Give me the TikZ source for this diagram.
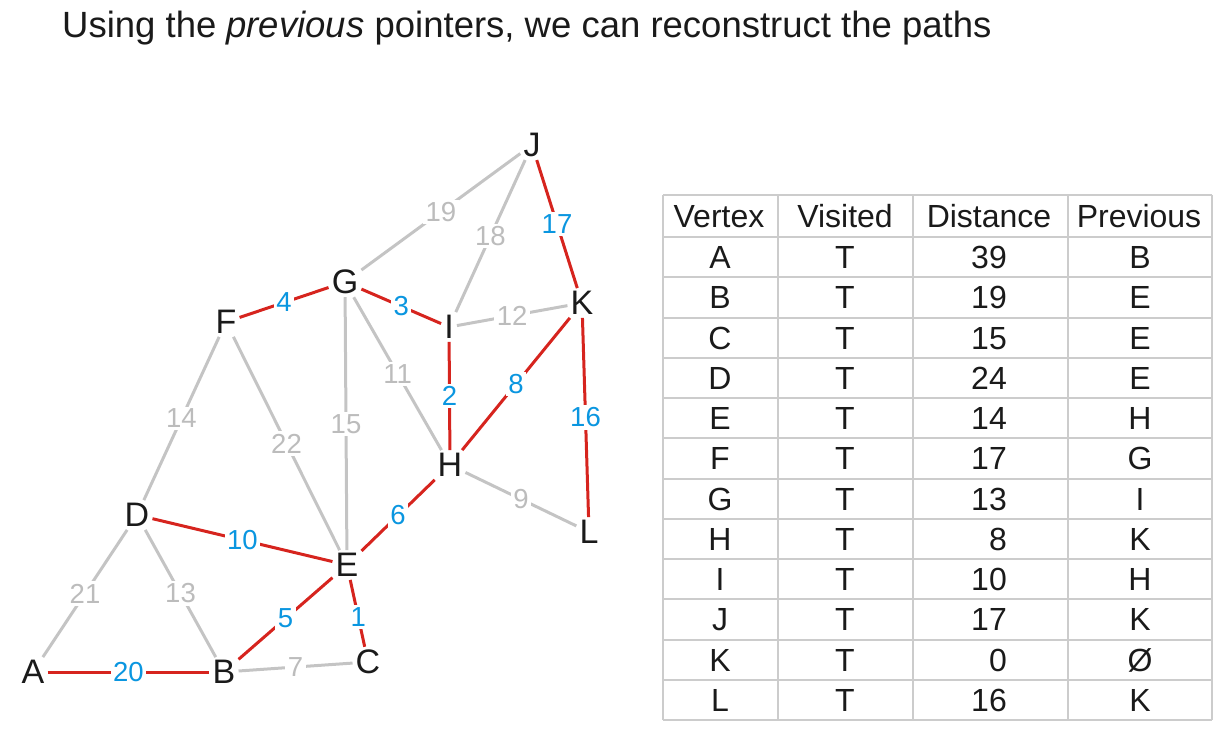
\documentclass[tikz,border=0pt]{standalone}
\usepackage{fontspec}
\setmainfont{Liberation Sans}
\definecolor{pathred}{RGB}{214,36,30}
\definecolor{edgegray}{RGB}{196,196,196}
\definecolor{wblue}{RGB}{10,150,224}
\definecolor{wgray}{RGB}{188,188,188}
\definecolor{gridgray}{RGB}{204,204,204}
\definecolor{ink}{RGB}{26,26,26}
\begin{document}
\begin{tikzpicture}[x=1pt,y=-1pt,
  vtx/.style={font=\fontsize{34}{34}\selectfont, text=ink, inner sep=3pt},
  wt/.style={font=\fontsize{27.5}{27.5}\selectfont, fill=white, inner sep=2.5pt},
  treeedge/.style={draw=pathred, line width=3pt},
  plainedge/.style={draw=edgegray, line width=3pt},
  bluewt/.style={wt, text=wblue},
  graywt/.style={wt, text=wgray},
  cell/.style={font=\fontsize{32}{32}\selectfont, text=ink, inner sep=0pt, anchor=base},
  gridline/.style={draw=gridgray, line width=2pt}
]
\useasboundingbox (0,0) rectangle (1229,731);

% heading
\node[anchor=base west, inner sep=0pt, font=\fontsize{36.5}{36.5}\selectfont, text=ink]
  (title) at (62,37) {Using the \textit{previous} pointers, we can reconstruct the paths};

% vertices
\node[vtx] (A) at (33,672) {A};
\node[vtx] (B) at (224,672) {B};
\node[vtx] (C) at (368,662) {C};
\node[vtx] (D) at (137,515) {D};
\node[vtx] (E) at (347,565) {E};
\node[vtx] (F) at (226,322) {F};
\node[vtx] (G) at (345,282) {G};
\node[vtx] (H) at (450,465) {H};
\node[vtx] (I) at (449,327) {I};
\node[vtx] (J) at (532,145) {J};
\node[vtx] (K) at (582,303) {K};
\node[vtx] (L) at (589,532) {L};

% edges not on the shortest-path tree
\draw[plainedge] (B) -- node[graywt] {7} (C);
\draw[plainedge] (A) -- node[graywt] {21} (D);
\draw[plainedge] (D) -- node[graywt] {13} (B);
\draw[plainedge] (D) -- node[graywt] {14} (F);
\draw[plainedge] (F) -- node[graywt] {22} (E);
\draw[plainedge] (G) -- node[graywt] {15} (E);
\draw[plainedge] (G) -- node[graywt] {11} (H);
\draw[plainedge] (H) -- node[graywt] {9} (L);
\draw[plainedge] (I) -- node[graywt] {12} (K);
\draw[plainedge] (G) -- node[graywt] {19} (J);
\draw[plainedge] (I) -- node[graywt] {18} (J);

% shortest-path tree edges
\draw[treeedge] (A) -- node[bluewt] {20} (B);
\draw[treeedge] (D) -- node[bluewt] {10} (E);
\draw[treeedge] (B) -- node[bluewt] {5} (E);
\draw[treeedge] (E) -- node[bluewt, pos=0.55] {1} (C);
\draw[treeedge] (E) -- node[bluewt] {6} (H);
\draw[treeedge] (I) -- node[bluewt] {2} (H);
\draw[treeedge] (H) -- node[bluewt] {8} (K);
\draw[treeedge] (K) -- node[bluewt] {16} (L);
\draw[treeedge] (F) -- node[bluewt] {4} (G);
\draw[treeedge] (G) -- node[bluewt] {3} (I);
\draw[treeedge] (J) -- node[bluewt] {17} (K);

% table grid
\foreach \x in {663,778,913,1068,1212}
  \draw[gridline] (\x,195) -- (\x,720);
\draw[gridline] (663,195) -- (1212,195);
\foreach \k in {0,...,12}
  \draw[gridline] (663,237+40.25*\k) -- (1212,237+40.25*\k);

% table header
\node[cell] (hv) at (719,227.5) {Vertex};
\node[cell] (hs) at (845,227.5) {Visited};
\node[cell] (hd) at (989,227.5) {Distance};
\node[cell] (hp) at (1139,227.5) {Previous};

% table rows
\foreach \v/\s/\d/\p [count=\i] in {A/T/39/B, B/T/19/E, C/T/15/E, D/T/24/E,
    E/T/14/H, F/T/17/G, G/T/13/I, H/T/8/K, I/T/10/H, J/T/17/K, K/T/0/Ø, L/T/16/K} {
  \pgfmathsetmacro{\yb}{237+40.25*(\i-1)+20.125+11.5}
  \node[cell] (rv\i) at (720,\yb) {\v};
  \node[cell] (rs\i) at (845,\yb) {\s};
  \node[cell, anchor=base east] (rd\i) at (1007,\yb) {\d};
  \node[cell] (rp\i) at (1140,\yb) {\p};
}
\end{tikzpicture}
\end{document}
